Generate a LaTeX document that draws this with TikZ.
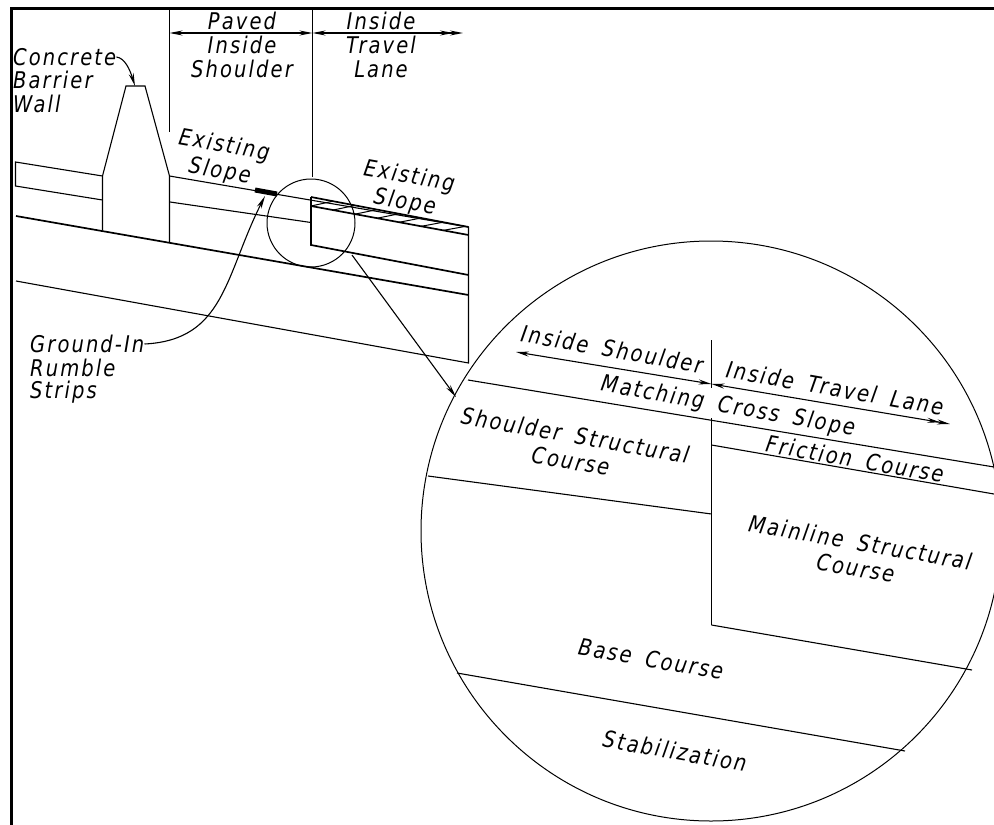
\documentclass[tikz,border=0pt]{standalone}
\usepackage{fontspec}
\setmainfont{DejaVu Sans}
\newfontfamily\lab[LetterSpace=9,FakeStretch=0.85,WordSpace=1.7]{DejaVu Sans}
\usetikzlibrary{arrows.meta,calc}
\tikzset{
  lbl/.style={inner sep=0pt,font=\lab\itshape\fontsize{23}{26}\selectfont,align=center},
  ln/.style={line width=1.1pt,black},
  thk/.style={line width=1.7pt,black},
  tip/.style={-{Stealth[length=13pt,width=5pt]}},
  tipb/.style={{Stealth[length=13pt,width=5pt]}-{Stealth[length=13pt,width=5pt]}},
  tipd/.style={{Stealth[length=13pt,width=5pt]}-{Stealth[length=13pt,width=5pt,sep=-3pt]Stealth[length=13pt,width=5pt]}},
}
\begin{document}
\begin{tikzpicture}[x=1pt,y=-1pt]
\useasboundingbox (0,0) rectangle (994,825);
% frame
\coordinate (fa) at (11,825); \coordinate (fb) at (11,8); \coordinate (fc) at (994,8);
\draw[line width=3pt,line join=miter] (fa) -- (fb) -- (fc);
% dimension lines
\coordinate (d1t) at (169.5,9); \coordinate (d1b) at (169.5,132);
\coordinate (d2t) at (312.5,9); \coordinate (d2b) at (312.5,177);
\coordinate (d3) at (463,33); \coordinate (m1) at (169.5,33); \coordinate (m2) at (312.5,33);
\draw[ln] (d1t) -- (d1b);
\draw[ln] (d2t) -- (d2b);
\draw[ln,tipb] (m1) -- (m2);
\draw[ln,tipd] (m2) -- (d3);
% barrier and left pavement
\coordinate (w1) at (102.5,176); \coordinate (w2) at (126,86); \coordinate (w3) at (145,86);
\coordinate (w4) at (169.5,176); \coordinate (w5) at (169.5,242); \coordinate (w6) at (102.5,230);
\coordinate (w7) at (102.5,200);
\coordinate (l1) at (15.5,162); \coordinate (l2) at (15.5,186);
\draw[ln,line join=miter] (w6) -- (w1) -- (w2) -- (w3) -- (w4) -- (w5);
\draw[ln] (w1) -- (l1) -- (l2) -- (w7);
% pavement
\coordinate (t2) at (468.5,227); \coordinate (s1) at (170,202); \coordinate (s2) at (311,222.5);
\coordinate (b1) at (16,216); \coordinate (b2) at (468.5,295);
\coordinate (g1) at (16,281); \coordinate (g2) at (468.5,363);
\coordinate (n1) at (311,197); \coordinate (n2) at (311,206); \coordinate (n3) at (311,245);
\coordinate (n4) at (468.5,275); \coordinate (h2) at (468.5,235);
\draw[ln] (w4) -- (t2) -- (g2) -- (g1);
\draw[ln] (s1) -- (s2);
\draw[thk] (b1) -- (b2);
\draw[thk] (n1) -- (n3) -- (n4);
\draw[thk] (n2) -- (h2);
\draw[thk] (n1) -- (t2);
\foreach \t in {0.0,0.14,0.28,0.42,0.56,0.70,0.84}
  \draw[line width=1pt] ($(n2)!\t!(h2)$) -- ($(n1)!\t+0.14!(t2)$);
% rumble strip
\coordinate (r1) at (255,190); \coordinate (r2) at (277,194);
\draw[line width=5pt] (r1) -- (r2);
% small and large circles
\node[circle,draw,line width=1pt,minimum size=88pt,inner sep=0pt] (small) at (311,223) {};
\node[circle,draw,line width=1pt,minimum size=580pt,inner sep=0pt] (big) at (711,531) {};
\coordinate (cl1) at (352,255); \coordinate (cl2) at (456,397);
\draw[ln,tip] (cl1) -- (cl2);
% leaders
\node[lbl,anchor=west] (cbw1) at (13,57) {Concrete};
\node[lbl,anchor=west] (cbw2) at (13,80) {Barrier};
\node[lbl,anchor=west] (cbw3) at (13,104) {Wall};
\coordinate (wt) at (135,86);
\draw[ln,tip] (cbw1.east) .. controls (125,58) and (130,70) .. (wt);
\node[lbl,anchor=west] (gr1) at (30,344) {Ground-In};
\node[lbl,anchor=west] (gr2) at (30,368) {Rumble};
\node[lbl,anchor=west] (gr3) at (30,392) {Strips};
\coordinate (rt) at (265,196);
\draw[ln,tip] (gr1.east) .. controls (225,340) and (225,275) .. (rt);
% top labels
\node[lbl] (p1) at (242,21) {Paved};
\node[lbl] (p2) at (242,45) {Inside};
\node[lbl] (p3) at (242,69) {Shoulder};
\node[lbl] (i1) at (381,21) {Inside};
\node[lbl] (i2) at (381,45) {Travel};
\node[lbl] (i3) at (381,69) {Lane};
\node[lbl,rotate=-10] (e1) at (222,159) {Existing\\Slope};
\node[lbl,rotate=-10] (e2) at (407,190) {Existing\\Slope};
% detail
\coordinate (v0) at (711.5,340); \coordinate (v1) at (711.5,388); \coordinate (v2) at (711.5,418); \coordinate (v3) at (711.5,625);
\coordinate (a1) at (516,352); \coordinate (a2) at (711.5,384); \coordinate (a3) at (950,424);
\draw[ln] (v0) -- (v1);
\draw[ln] (v2) -- (v3);
\draw[ln,tipb] (a1) -- (a2);
\draw[ln,tipd] (a2) -- (a3);
\coordinate (c1) at (468,380); \coordinate (c2) at (994,467);
\coordinate (f1) at (711.5,445); \coordinate (f2) at (994,494);
\coordinate (q1) at (428,476); \coordinate (q2) at (711.5,514);
\coordinate (k2) at (972,670);
\coordinate (y1) at (457,673); \coordinate (y2) at (905,751);
\draw[ln] (c1) -- (c2);
\draw[ln] (f1) -- (f2);
\draw[ln] (q1) -- (q2);
\draw[ln] (v3) -- (k2);
\draw[ln] (y1) -- (y2);
\node[lbl,rotate=-10] (tx1) at (612,349) {Inside Shoulder};
\node[lbl,rotate=-10] (tx2) at (835,388) {Inside Travel Lane};
\node[lbl,rotate=-10] (tx3) at (728,407) {Matching Cross Slope};
\node[lbl,rotate=-10] (tx4) at (573,448) {Shoulder Structural\\Course};
\node[lbl,rotate=-10] (tx5) at (855,459) {Friction Course};
\node[lbl,rotate=-10] (tx6) at (858,555) {Mainline Structural\\Course};
\node[lbl,rotate=-10] (tx7) at (651,659) {Base Course};
\node[lbl,rotate=-10] (tx8) at (675,751) {Stabilization};
\end{tikzpicture}
\end{document}
